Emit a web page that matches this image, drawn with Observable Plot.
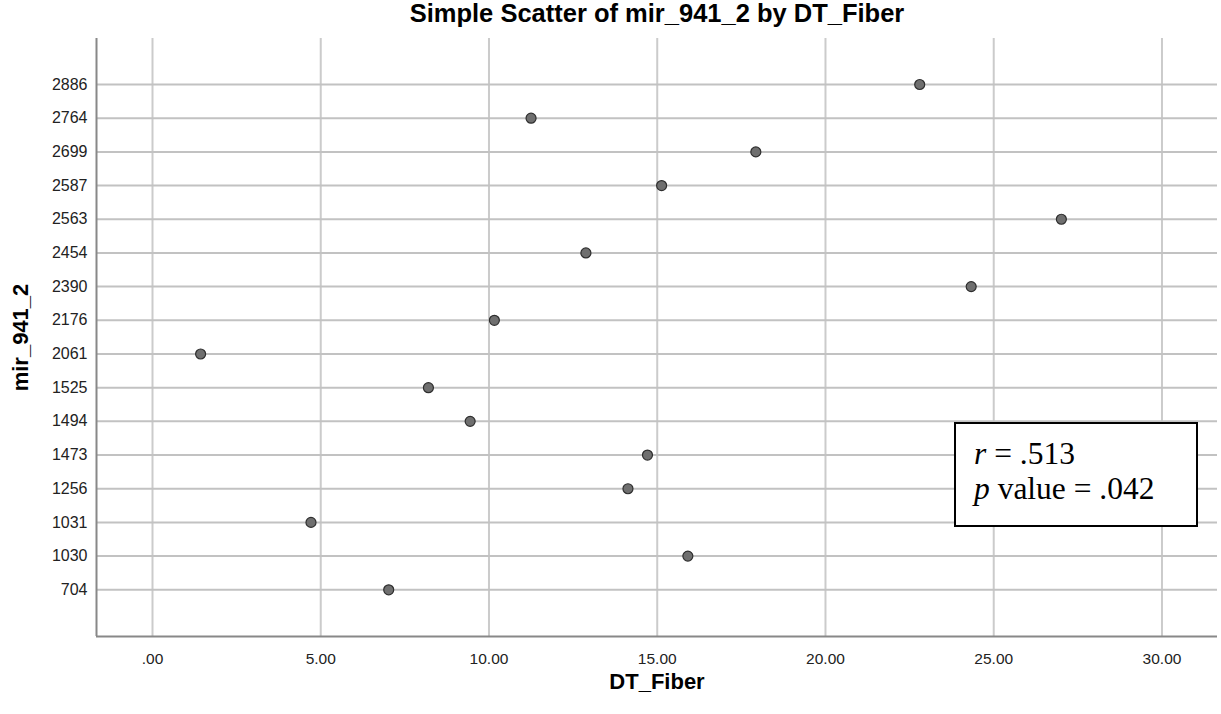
<!DOCTYPE html>
<html>
<head>
<meta charset="utf-8">
<script src="https://cdn.jsdelivr.net/npm/d3@7"></script>
<script src="https://cdn.jsdelivr.net/npm/@observablehq/plot@0.6"></script>
<style>
  html, body { margin: 0; padding: 0; background: #fff; }
  #wrap { position: relative; width: 1221px; height: 714px; }
  #stats {
    position: absolute; left: 954px; top: 422px; width: 240px; height: 101px;
    border: 2px solid #000; background: #fff; box-sizing: content-box;
    font-family: "Liberation Serif", "Times New Roman", serif; font-size: 31.5px;
    line-height: 35px; color: #000; padding: 0;
  }
  #stats div { padding-left: 18px; }
</style>
</head>
<body>
<div id="wrap">
  <div id="chart"></div>
  <div id="stats"><div style="margin-top:12px"><i>r</i> = .513</div><div><i>p</i> value = .042</div></div>
</div>
<script>
// mir_941_2 categories (bottom to top) and DT_Fiber values
const mirCats = ["704","1030","1031","1256","1473","1494","1525","2061","2176","2390","2454","2563","2587","2699","2764","2886"];
const dtFiber = [7.02, 15.91, 4.71, 14.13, 14.71, 9.44, 8.20, 1.43, 10.16, 24.33, 12.88, 27.01, 15.13, 17.93, 11.25, 22.80];
const xTicks = [0, 5, 10, 15, 20, 25, 30];
const titleText = "Simple Scatter of mir_941_2 by DT_Fiber";
const xLabel = "DT_Fiber";
const yLabel = "mir_941_2";

const data = mirCats.map((c, i) => ({cat: c, idx: i, x: dtFiber[i]}));
const xMin = -1.664, xMax = 31.65, yMin = -1.387, yMax = 16.366;
const font = "'Liberation Sans', Arial, sans-serif";

const chart = Plot.plot({
  width: 1221,
  height: 714,
  marginLeft: 96,
  marginRight: 4,
  marginTop: 38,
  marginBottom: 78,
  style: {fontFamily: font, background: "#fff", color: "#222"},
  x: {domain: [xMin, xMax], ticks: xTicks},
  y: {domain: [yMin, yMax], ticks: d3.range(mirCats.length)},
  marks: [
    Plot.gridX(xTicks, {stroke: "#cbcbcb", strokeOpacity: 1, strokeWidth: 2}),
    Plot.gridY(d3.range(mirCats.length), {stroke: "#c2c2c2", strokeOpacity: 1, strokeWidth: 2}),
    Plot.ruleX([xMin], {stroke: "#888", strokeWidth: 2}),
    Plot.ruleY([yMin], {stroke: "#888", strokeWidth: 2}),
    Plot.axisX(xTicks, {tickSize: 0, tickPadding: 16, fontSize: 15.5, label: null,
      tickFormat: d => d === 0 ? ".00" : d.toFixed(2), fill: "#222"}),
    Plot.axisY(d3.range(mirCats.length), {tickSize: 0, tickPadding: 9, fontSize: 16, label: null,
      tickFormat: i => mirCats[i], fill: "#222"}),
    Plot.dot(data, {x: "x", y: "idx", r: 5, fill: "#6f6f6f", stroke: "#2e2e2e", strokeWidth: 1.2}),
    Plot.text([titleText], {frameAnchor: "top", dy: -17, fontSize: 25.5, fontWeight: "bold", fill: "#000", lineAnchor: "bottom"}),
    Plot.text([xLabel], {frameAnchor: "bottom", dy: 45, fontSize: 22, fontWeight: "bold", fill: "#000", lineAnchor: "middle"}),
    Plot.text([yLabel], {frameAnchor: "left", dx: -76, rotate: -90, textAnchor: "middle", fontSize: 22, fontWeight: "bold", fill: "#000", lineAnchor: "middle"})
  ]
});
document.getElementById("chart").appendChild(chart);
</script>
</body>
</html>
